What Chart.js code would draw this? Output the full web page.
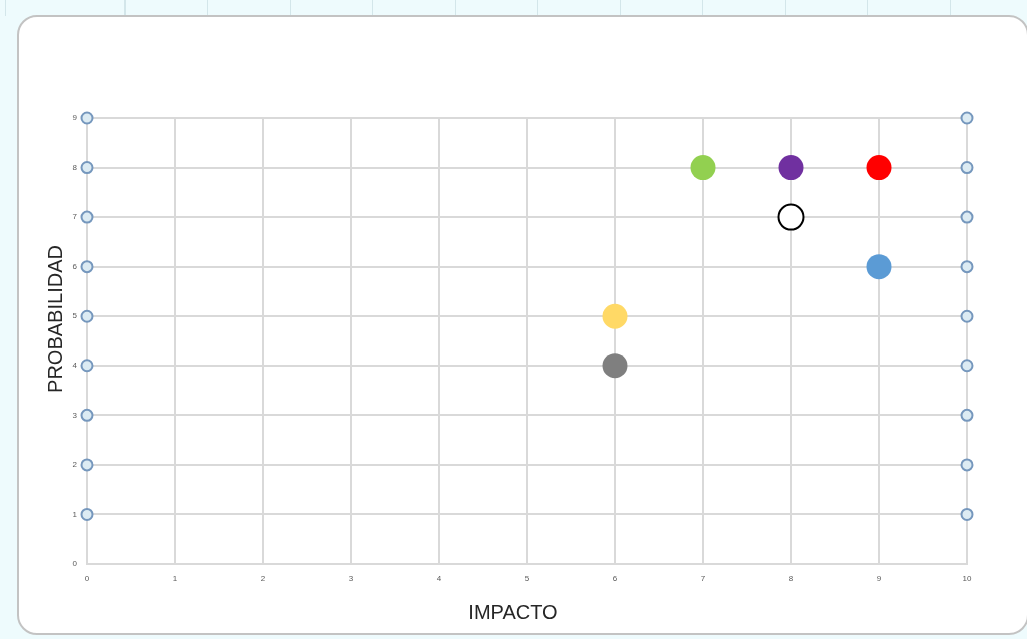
<!DOCTYPE html>
<html>
<head>
<meta charset="utf-8">
<script src="https://cdn.jsdelivr.net/npm/chart.js@4.4.1/dist/chart.umd.min.js"></script>
<style>
  html, body { margin: 0; padding: 0; }
  body {
    width: 1027px; height: 639px; overflow: hidden; position: relative;
    background: #eefbfd;
  }
  .strip-top {
    position: absolute; left: 0; top: 0; width: 1027px; height: 16px;
    background-image: repeating-linear-gradient(90deg, transparent 0, transparent 81.5px, #d3e6ea 81.5px, #d3e6ea 82.5px);
    background-position: 43px 0;
  }
  .frame {
    position: absolute; left: 17px; top: 15px; width: 1008px; height: 616px;
    border: 2px solid #c3c3c3; border-radius: 20px; background: #fff;
  }
  canvas { position: absolute; left: 0; top: 0; }
</style>
</head>
<body>
<div class="strip-top"></div>
<div class="frame"></div>
<canvas id="riskChart" width="1027" height="639"></canvas>
<script>
// risk points
const impacto = [7, 8, 9, 8, 9, 6, 6];
const probabilidad = [8, 8, 8, 7, 6, 5, 4];
const pointColors = ['#92d050', '#7030a0', '#ff0000', '#ffffff', '#5b9bd5', '#ffd966', '#7f7f7f'];
const pointBorders = ['#92d050', '#7030a0', '#ff0000', '#000000', '#5b9bd5', '#ffd966', '#7f7f7f'];

// small markers on both sides of the grid
const edgeY = [1, 2, 3, 4, 5, 6, 7, 8, 9];
const edgeLeftX = 0;
const edgeRightX = 10;

const xTicks = [0, 1, 2, 3, 4, 5, 6, 7, 8, 9, 10];
const yTicks = [0, 1, 2, 3, 4, 5, 6, 7, 8, 9];

const titleFont = "20px 'Liberation Sans', Arial, sans-serif";

// axis titles placed like the Excel ones
const axisTitles = {
    id: 'axisTitles',
    afterDraw(chart) {
        const { ctx, chartArea } = chart;
        ctx.save();
        ctx.font = titleFont;
        ctx.fillStyle = '#262626';
        ctx.textAlign = 'center';
        ctx.textBaseline = 'middle';
        ctx.fillText('IMPACTO', (chartArea.left + chartArea.right) / 2 - 14, 613);
        ctx.translate(56, (chartArea.top + chartArea.bottom) / 2 - 22);
        ctx.rotate(-Math.PI / 2);
        ctx.fillText('PROBABILIDAD', 0, 0);
        ctx.restore();
    }
};

const ctx = document.getElementById('riskChart').getContext('2d');

new Chart(ctx, {
    type: 'scatter',
    data: {
        datasets: [
            {
                label: 'riesgos',
                data: impacto.map((x, i) => ({ x: x, y: probabilidad[i] })),
                pointRadius: 12.5,
                pointHoverRadius: 12.5,
                pointBackgroundColor: pointColors,
                pointBorderColor: pointBorders,
                pointBorderWidth: pointBorders.map(c => c === '#000000' ? 2 : 0),
                clip: false,
                order: 1
            },
            {
                label: 'izq',
                data: edgeY.map(y => ({ x: edgeLeftX, y: y })),
                pointRadius: 5.5,
                pointBackgroundColor: '#dcebf3',
                pointBorderColor: '#7597bd',
                pointBorderWidth: 2,
                clip: false,
                order: 2
            },
            {
                label: 'der',
                data: edgeY.map(y => ({ x: edgeRightX, y: y })),
                pointRadius: 5.5,
                pointBackgroundColor: '#dcebf3',
                pointBorderColor: '#7597bd',
                pointBorderWidth: 2,
                clip: false,
                order: 2
            }
        ]
    },
    options: {
        responsive: false,
        animation: false,
        layout: { padding: { top: 118, right: 60, left: 0, bottom: 0 } },
        scales: {
            x: {
                type: 'linear',
                min: 0,
                max: 10,
                afterBuildTicks: axis => { axis.ticks = xTicks.map(v => ({ value: v })); },
                afterFit: axis => { axis.height = 75; },
                grid: { color: '#d9d9d9', lineWidth: 2, drawTicks: false },
                border: { color: '#d9d9d9', width: 2 },
                ticks: {
                    padding: 10,
                    color: '#595959',
                    font: { size: 8, family: "'Liberation Sans', Arial, sans-serif" }
                }
            },
            y: {
                type: 'linear',
                min: 0,
                max: 9,
                afterBuildTicks: axis => { axis.ticks = yTicks.map(v => ({ value: v })); },
                afterFit: axis => { axis.width = 87; },
                grid: { color: '#d9d9d9', lineWidth: 2, drawTicks: false },
                border: { color: '#d9d9d9', width: 2 },
                ticks: {
                    padding: 10,
                    color: '#595959',
                    font: { size: 8, family: "'Liberation Sans', Arial, sans-serif" }
                }
            }
        },
        plugins: {
            legend: { display: false },
            tooltip: { enabled: false }
        }
    },
    plugins: [axisTitles]
});
</script>
</body>
</html>
